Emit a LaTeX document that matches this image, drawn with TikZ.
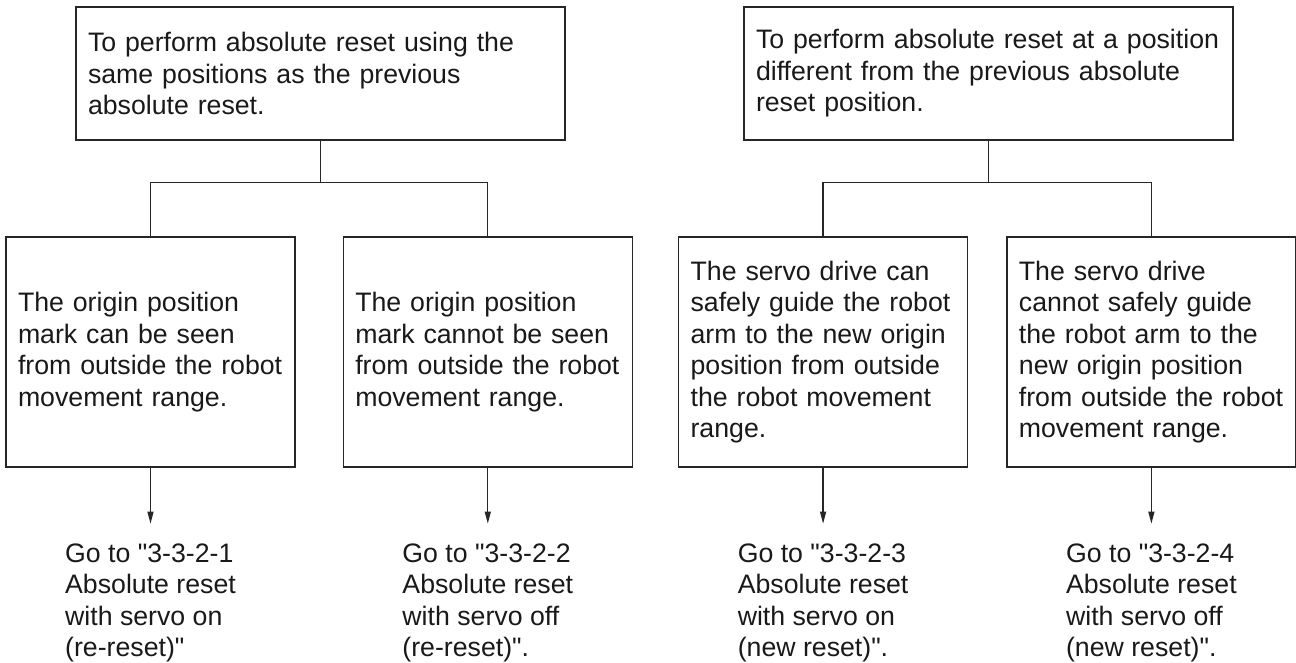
\documentclass[tikz,border=0pt]{standalone}
\usepackage{fontspec}
\setmainfont{Liberation Sans}
\usetikzlibrary{positioning, arrows.meta}

\newcommand{\sq}{\XeTeXglyph\XeTeXcharglyph"22\relax}

\begin{document}
\begin{tikzpicture}[
    x=1pt, y=1pt,
    node distance=45pt,
    every node/.style={font=\fontsize{26.7}{31.5}\selectfont, text=black!90},
    topbox/.style={
        rectangle,
        draw=black!85,
        line width=1.3pt,
        align=left,
        text width=465pt,
        minimum height=133pt,
        inner xsep=12pt
    },
    casebox/.style={
        rectangle,
        draw=black!85,
        line width=1.3pt,
        align=left,
        text width=265pt,
        minimum height=230pt,
        inner xsep=12pt
    },
    goto/.style={align=left, inner sep=0pt},
    link/.style={draw=black!85, line width=1.3pt},
    arrow/.style={link, -{Triangle[length=12pt, width=6pt]}, shorten >=20pt}
]
\useasboundingbox (0,0) rectangle (1296,663);

\node[topbox] (sameTop) at (320.5,589.5) {To perform absolute reset using the\\ same positions as the previous\\ absolute reset.};
\node[topbox] (newTop) at (988.5,589.5) {To perform absolute reset at a position\\ different from the previous absolute\\ reset position.};

\node[casebox] (seenBox) at (150.5,311) {The origin position\\ mark can be seen\\ from outside the robot\\ movement range.};
\node[casebox, right=47pt of seenBox] (unseenBox) {The origin position\\ mark cannot be seen\\ from outside the robot\\ movement range.};
\node[casebox, right=45pt of unseenBox] (guideBox) {The servo drive can\\ safely guide the robot\\ arm to the new origin\\ position from outside\\ the robot movement\\ range.};
\node[casebox, right=38pt of guideBox] (noGuideBox) {The servo drive\\ cannot safely guide\\ the robot arm to the\\ new origin position\\ from outside the robot\\ movement range.};

\node[goto, below=76pt of seenBox] (seenGo) {Go to \sq3-3-2-1\\ Absolute reset\\ with servo on\\ (re-reset)\sq};
\node[goto, below=76pt of unseenBox] (unseenGo) {Go to \sq3-3-2-2\\ Absolute reset\\ with servo off\\ (re-reset)\sq.};
\node[goto, below=76pt of guideBox] (guideGo) {Go to \sq3-3-2-3\\ Absolute reset\\ with servo on\\ (new reset)\sq.};
\node[goto, below=76pt of noGuideBox] (noGuideGo) {Go to \sq3-3-2-4\\ Absolute reset\\ with servo off\\ (new reset)\sq.};

% branches
\draw[link] (sameTop.south) -- ++(0,-42) coordinate (sameFork);
\draw[link] (sameFork) -| (seenBox.north);
\draw[link] (sameFork) -| (unseenBox.north);
\draw[link] (newTop.south) -- ++(0,-42) coordinate (newFork);
\draw[link] (newFork) -| (guideBox.north);
\draw[link] (newFork) -| (noGuideBox.north);

% arrows to the sections
\draw[arrow] (seenBox.south) -- (seenBox.south |- seenGo.north);
\draw[arrow] (unseenBox.south) -- (unseenBox.south |- unseenGo.north);
\draw[arrow] (guideBox.south) -- (guideBox.south |- guideGo.north);
\draw[arrow] (noGuideBox.south) -- (noGuideBox.south |- noGuideGo.north);

\end{tikzpicture}
\end{document}
